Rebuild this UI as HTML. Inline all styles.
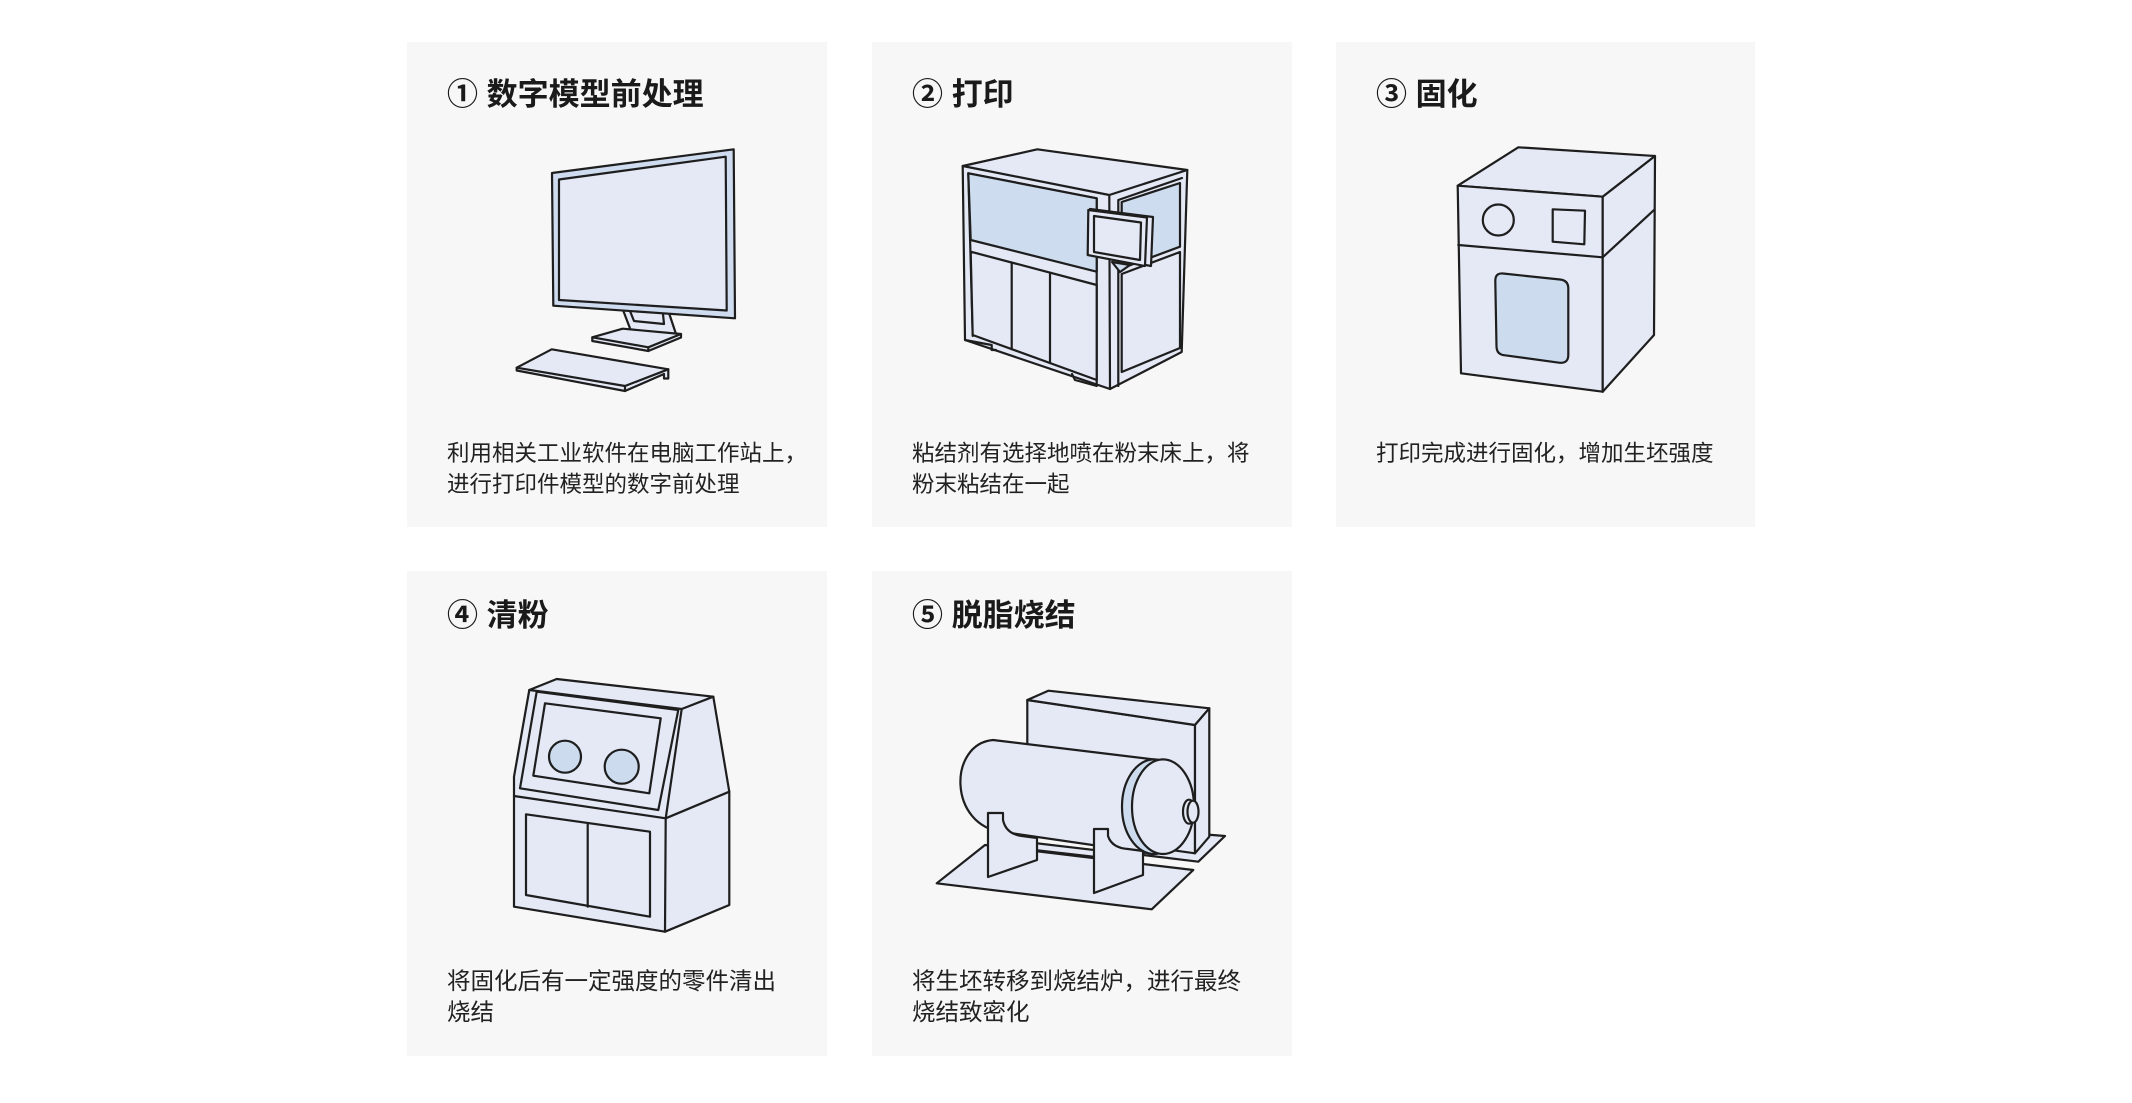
<!DOCTYPE html>
<html>
<head>
<meta charset="utf-8">
<style>
  html,body{margin:0;padding:0;}
  body{width:2132px;height:1103px;background:#ffffff;position:relative;overflow:hidden;
       font-family:"Liberation Sans","Noto Sans CJK SC",sans-serif;color:#222;}
  .card{position:absolute;width:420px;height:485px;background:#f7f7f7;}
  .title{position:absolute;font-size:31px;line-height:40px;font-weight:bold;white-space:nowrap;color:#1a1a1a;}
  .desc{position:absolute;font-size:22.5px;line-height:31px;white-space:nowrap;color:#222;}
  .desc.r2{font-size:23.5px;}
  svg{position:absolute;left:0;top:0;}
</style>
</head>
<body>
<div class="card" style="left:407px;top:42px;"></div>
<div class="card" style="left:872px;top:42px;"></div>
<div class="card" style="left:1336px;top:42px;width:419px;"></div>
<div class="card" style="left:407px;top:571px;"></div>
<div class="card" style="left:872px;top:571px;"></div>

<div class="title" style="left:447px;top:75px;">① 数字模型前处理</div>
<div class="title" style="left:912px;top:75px;">② 打印</div>
<div class="title" style="left:1376px;top:75px;">③ 固化</div>
<div class="title" style="left:447px;top:596px;">④ 清粉</div>
<div class="title" style="left:912px;top:596px;">⑤ 脱脂烧结</div>

<div class="desc" style="left:447px;top:438px;">利用相关工业软件在电脑工作站上，<br>进行打印件模型的数字前处理</div>
<div class="desc" style="left:912px;top:438px;">粘结剂有选择地喷在粉末床上，将<br>粉末粘结在一起</div>
<div class="desc" style="left:1376px;top:438px;">打印完成进行固化，增加生坯强度</div>
<div class="desc r2" style="left:447px;top:966px;">将固化后有一定强度的零件清出<br>烧结</div>
<div class="desc r2" style="left:912px;top:966px;">将生坯转移到烧结炉，进行最终<br>烧结致密化</div>

<svg width="2132" height="1103" viewBox="0 0 2132 1103" xmlns="http://www.w3.org/2000/svg"
     fill="#e4e9f5" stroke="#1e1e1e" stroke-width="2.2" stroke-linejoin="round" stroke-linecap="round">
  <!-- ============ Monitor ============ -->
  <polygon points="623,310 669,313 677,337 631,331"/>
  <polyline fill="none" points="630,311 634,321 664,324 663,314"/>
  <polygon points="592.3,337.3 622.7,328.7 681,334 681,337.5 648.3,351 592.3,341"/>
  <polyline fill="none" points="592.3,337.3 648.3,347.3 681,334"/>
  <line x1="648.3" y1="347.3" x2="648.3" y2="351"/>
  <polygon fill="#cfdcef" points="552,173 733.7,149.3 735,318.3 553.3,305.7"/>
  <polygon points="559,179.5 725.7,156.7 726.7,310.5 559,300"/>
  <polygon points="516.7,367.7 551.7,349.3 668.3,369.3 668.3,378.5 664,378.5 664,374 625,391 516.7,370.5"/>
  <polyline fill="none" points="516.7,367.7 625,386 668.3,369.3"/>
  <line x1="625" y1="386" x2="625" y2="391"/>

  <!-- ============ Printer ============ -->
  <polygon points="962.7,166 1037.3,149.3 1187.3,170 1181.7,352 1110,389 965,340"/>
  <polyline fill="none" points="962.7,166 1109.3,195 1187.3,170"/>
  <line x1="1109.3" y1="195" x2="1110" y2="389"/>
  <polyline fill="none" points="968.3,173.3 1096.7,198.3 1096.7,384"/>
  <polyline fill="none" points="1118.3,386 1118.3,200 1182,178"/>
  <line x1="968.3" y1="173.3" x2="972.7" y2="336"/>
  <polygon fill="#cddcee" points="968.3,173.3 1096.7,198.3 1096.7,271.7 970.7,240"/>
  <polygon points="970.7,251.7 1096.7,285 1096.7,380 972.7,335"/>
  <line x1="1011.7" y1="262.5" x2="1011.7" y2="349.2"/>
  <line x1="1050" y1="272.7" x2="1050" y2="363"/>
  <polygon fill="#cddcee" points="1121.7,202 1180,183 1180,246.7 1121.7,268.3"/>
  <polygon points="1121.7,274 1180,252 1180,348 1121.7,372"/>
  <polyline fill="none" points="965,340 991.7,345 991.7,350 996,350"/>
  <polyline fill="none" points="1072,374 1075,380 1096.7,386"/>
  <polygon fill="#e4e9f5" points="1090,209 1153,217 1151,266 1088,254"/>
  <polygon points="1088.3,210 1147,217.5 1145,266 1087.7,255"/>
  <polygon points="1094,216 1141,222.5 1140,260 1094,252"/>
  <polygon fill="#cddcee" points="1112,262 1130,265 1120,272"/>

  <!-- ============ Curing oven ============ -->
  <polygon points="1457.7,185.7 1518.3,147.3 1655,156 1602.7,196.7"/>
  <polygon points="1457.7,185.7 1602.7,196.7 1602.7,391.7 1461,373.3"/>
  <polygon points="1602.7,196.7 1655,156 1654,335 1602.7,391.7"/>
  <line x1="1458.3" y1="245" x2="1602.7" y2="257.3"/>
  <line x1="1602.7" y1="257.3" x2="1654" y2="210"/>
  <circle cx="1498.3" cy="220" r="15.5"/>
  <polygon points="1552.7,209.3 1585,210.7 1584.3,244.3 1552.7,241.7"/>
  <path fill="#ccdcee" d="M1503,273.5 L1560,279.5 Q1568.3,280.3 1568.3,288.5 L1568.3,355 Q1568.3,363.3 1560,362.8 L1505,355.3 Q1496.7,354.8 1496.5,346.5 L1495.3,281 Q1495.3,272.7 1503,273.5 Z"/>

  <!-- ============ Powder cleaning cabinet ============ -->
  <polygon points="529.3,690 556.7,679 713.3,696.7 729.3,791.7 729.3,905 665,931.7 514,906.7 514,776.7"/>
  <polyline fill="none" points="529.3,690 681.7,709 713.3,696.7"/>
  <polyline fill="none" points="681.7,709 665.7,818.3 665,931.7"/>
  <line x1="514" y1="796" x2="665.7" y2="818.3"/>
  <line x1="665.7" y1="818.3" x2="729.3" y2="791.7"/>
  <polygon points="536.7,691.7 678.3,710 658.3,810 520,788.3"/>
  <polygon points="545,703.3 660.7,718.3 649.3,793.3 533.3,775.7"/>
  <circle fill="#ccdcee" cx="565" cy="756.7" r="16"/>
  <circle fill="#ccdcee" cx="621.7" cy="766.7" r="17"/>
  <polygon points="526,814.3 650,831.7 650,916.7 526,895"/>
  <line x1="587.7" y1="823.3" x2="587.7" y2="906.7"/>

  <!-- ============ Sintering furnace ============ -->
  <polygon points="936.7,883.3 985,845 1193.3,870 1151.7,909.3"/>
  <polygon points="1150,830 1225,836 1198.3,861.7 1143.3,855"/>
  <polygon points="1027.3,700 1195,725 1195,853.3 1027.3,830"/>
  <polygon points="1027.3,700 1048.3,690.7 1209.3,708.3 1195,725"/>
  <polygon points="1195,725 1209.3,708.3 1209.3,836.7 1195,853.3"/>
  <polygon points="1030,842.5 1100,850.7 1100,857.5 1030,849.5"/>
  <path d="M993,740 L1154,759.5 L1154,854 L1003,832 C948,826 948,744 993,740 Z"/>
  <ellipse fill="#ccdcee" cx="1154" cy="806.7" rx="32" ry="47.3"/>
  <ellipse cx="1163" cy="806.7" rx="31" ry="47.3"/>
  <ellipse cx="1189" cy="811.7" rx="6" ry="12"/>
  <ellipse cx="1193" cy="811.7" rx="5.5" ry="11"/>
  <path d="M988,813 L1003,813 L1003,820 Q1006,834 1022,836 L1037,838 L1037,860 L988,877 Z"/>
  <path d="M1094,829 L1108,829 L1108,836 Q1112,848 1128,849 L1143,851 L1143,875 L1094,893 Z"/>
</svg>
</body>
</html>
